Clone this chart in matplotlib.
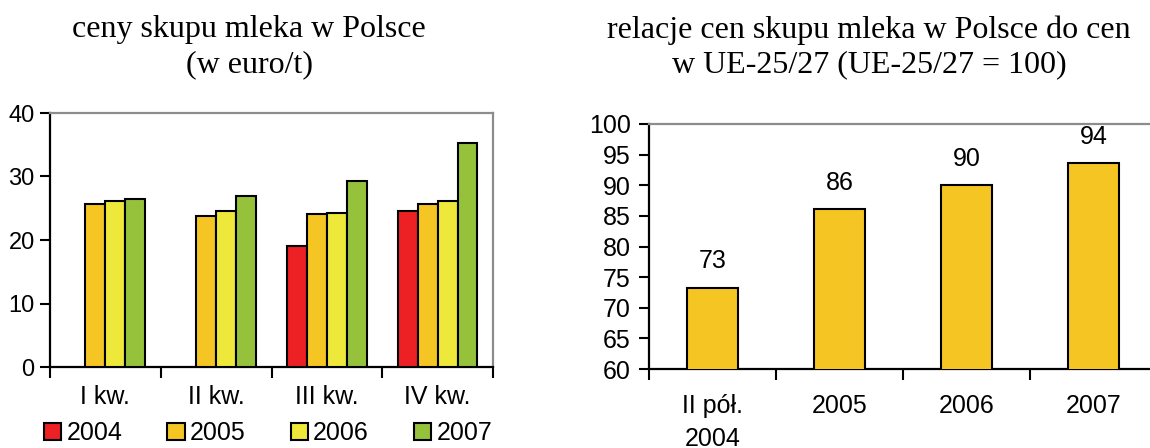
import matplotlib
matplotlib.use("Agg")
import matplotlib.pyplot as plt
import numpy as np

plt.rcParams['font.family'] = 'Liberation Sans'

# left chart: milk purchase prices in Poland (euro/t)
quarters = ["I kw.", "II kw.", "III kw.", "IV kw."]
years = ["2004", "2005", "2006", "2007"]
price_2004 = [None, None, 19.1, 24.5]
price_2005 = [25.6, 23.8, 24.1, 25.7]
price_2006 = [26.2, 24.6, 24.3, 26.2]
price_2007 = [26.4, 26.9, 29.3, 35.3]
year_colors = ["#ED2024", "#F5C623", "#EEE83A", "#96C23B"]

# right chart: price relation PL / EU-25/27 (EU = 100)
rel_labels = ["II pół.\n2004", "2005", "2006", "2007"]
rel_values = [73.3, 86.1, 90.0, 93.6]

GRAY = "#8C8C8C"

fig = plt.figure(figsize=(11.5, 4.48), dpi=100)


def style_axes(ax, xpad):
    ax.spines['left'].set_color('black')
    ax.spines['bottom'].set_color('black')
    ax.spines['top'].set_color(GRAY)
    ax.spines['right'].set_color(GRAY)
    for s in ax.spines.values():
        s.set_linewidth(1.6)
    ax.tick_params(axis='y', direction='out', length=7, width=1.5, pad=4)
    ax.tick_params(axis='x', which='major', length=0, pad=xpad)
    ax.tick_params(axis='x', which='minor', direction='out', length=8, width=1.5)


# ---- left chart ----
ax1 = fig.add_axes([50 / 1150, 1 - 367 / 448, 443 / 1150, 254 / 448])
series = [price_2004, price_2005, price_2006, price_2007]
x = np.arange(len(quarters))
bw = 0.18
for i, (vals, col, yr) in enumerate(zip(series, year_colors, years)):
    xs = [xx + (i - 1.5) * bw for xx, v in zip(x, vals) if v is not None]
    hs = [v for v in vals if v is not None]
    ax1.bar(xs, hs, width=bw, color=col, edgecolor='black', linewidth=1.5,
            label=yr, zorder=3)
ax1.set_xlim(-0.5, 3.5)
ax1.set_ylim(0, 40)
ax1.set_yticks([0, 10, 20, 30, 40])
ax1.set_xticks(x)
ax1.set_xticklabels(quarters, fontsize=18)
ax1.set_xticks(np.arange(-0.5, 4.0, 1.0), minor=True)
style_axes(ax1, 13)
ax1.tick_params(axis='y', labelsize=17)

fig.legend(loc='center', bbox_to_anchor=(268 / 1150, 1 - 433 / 448), ncol=4,
           frameon=False, fontsize=18, handlelength=0.7, handleheight=0.7,
           handletextpad=0.2, columnspacing=1.8, borderaxespad=0)

fig.text(249 / 1150, 1 - 30 / 448, "ceny skupu mleka w Polsce",
         family='Liberation Serif', fontsize=23, ha='center', va='center')
fig.text(249 / 1150, 1 - 65 / 448, "(w euro/t)",
         family='Liberation Serif', fontsize=23, ha='center', va='center')

# ---- right chart ----
ax2 = fig.add_axes([649 / 1150, 1 - 369 / 448, 508 / 1150, 245 / 448])
x2 = np.arange(len(rel_labels))
ax2.bar(x2, rel_values, width=0.4, color="#F5C623", edgecolor='black',
        linewidth=1.5, zorder=3)
for xx, v in zip(x2, rel_values):
    ax2.annotate(f"{v:.0f}", (xx, v), xytext=(0, 19), textcoords='offset points',
                 ha='center', va='center', fontsize=18)
ax2.set_xlim(-0.5, 3.5)
ax2.set_ylim(60, 100)
ax2.set_yticks(np.arange(60, 101, 5))
ax2.set_xticks(x2)
ax2.set_xticklabels(rel_labels, fontsize=18)
for lab in ax2.get_xticklabels():
    lab.set_linespacing(1.45)
ax2.set_xticks(np.arange(-0.5, 3.0, 1.0), minor=True)
style_axes(ax2, 18)
ax2.tick_params(axis='y', labelsize=18, pad=6)

fig.text(869 / 1150, 1 - 30 / 448, "relacje cen skupu mleka w Polsce do cen",
         family='Liberation Serif', fontsize=23, ha='center', va='center')
fig.text(869 / 1150, 1 - 65 / 448, "w UE-25/27 (UE-25/27 = 100)",
         family='Liberation Serif', fontsize=23, ha='center', va='center')

fig.savefig('out.png', dpi=100)
